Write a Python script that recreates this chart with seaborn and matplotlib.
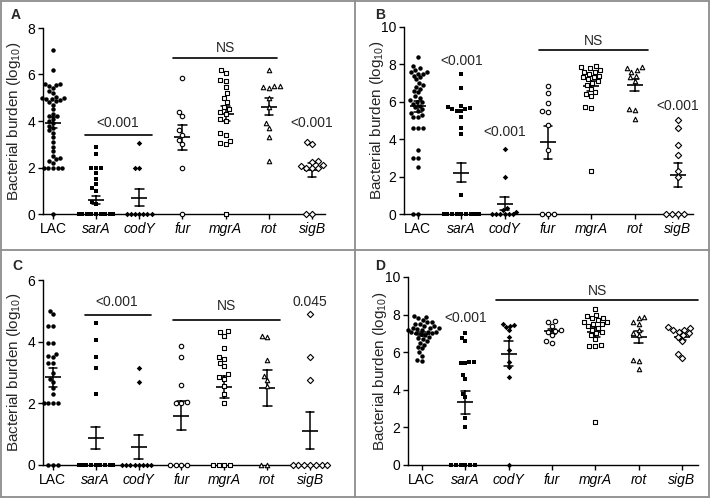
import numpy as np
import pandas as pd
import seaborn as sns
import matplotlib.pyplot as plt
from matplotlib.lines import Line2D

strains = ['LAC', 'sarA', 'codY', 'fur', 'mgrA', 'rot', 'sigB']

# panel A
a_lac = [7.05, 6.2, 5.6, 5.55, 5.5, 5.4, 5.3, 5.2, 5.0, 5.0, 4.95, 4.9, 4.8, 4.7, 4.5,
         4.3, 4.2, 4.2, 4.1, 4.0, 3.9, 3.8, 3.7, 3.6, 3.5, 3.3, 3.1, 2.9, 2.7, 2.5,
         2.4, 2.35, 2.3, 2.2, 2.0, 2.0, 2.0, 2.0, 2.0, 0, 4.95, 5.05, 4.85, 5.6]
a_sara = [2.9, 2.6, 2.0, 2.0, 2.0, 1.75, 1.5, 1.3, 1.1, 1.0, 0.5, 0.45] + [0] * 20
a_cody = [3.05, 2.0, 2.0] + [0] * 7
a_fur = [5.85, 4.4, 4.2, 3.6, 3.4, 3.2, 3.0, 2.0, 0]
a_mgra = [6.2, 6.05, 5.75, 5.7, 5.45, 5.2, 5.0, 4.8, 4.6, 4.5, 4.4, 4.3, 4.1, 4.0,
          3.5, 3.4, 3.15, 3.05, 3.0, 0]
a_rot = [6.2, 5.5, 5.5, 5.4, 5.0, 4.6, 3.9, 3.7, 3.3, 2.3, 5.45]
a_sigb = [3.1, 3.0, 2.3, 2.25, 2.1, 2.05, 2.0, 2.0, 2.0, 0, 0]

# panel B
b_lac = [8.4, 7.9, 7.8, 7.7, 7.6, 7.5, 7.5, 7.4, 7.2, 7.0, 6.8, 6.7, 6.5, 6.3, 6.2,
         6.0, 6.0, 5.9, 5.8, 5.7, 5.6, 5.5, 5.4, 5.3, 5.2, 5.2, 4.6, 4.6, 4.6, 3.4,
         3.0, 3.0, 2.5, 0, 0, 7.6, 6.9, 6.1, 7.3, 6.6]
b_sara = [7.5, 6.75, 5.8, 5.7, 5.65, 5.6, 5.6, 5.5, 5.5, 5.2, 4.6, 4.3, 1.0] + [0] * 18
b_cody = [3.5, 2.0, 0.3, 0.2, 0.1] + [0] * 6
b_fur = [6.85, 6.45, 5.95, 5.5, 5.45, 4.75, 3.4, 0, 0, 0]
b_mgra = [7.9, 7.8, 7.7, 7.6, 7.5, 7.4, 7.3, 7.3, 7.2, 7.1, 7.0, 6.9, 6.7, 6.5, 6.4,
          6.3, 5.7, 5.65, 2.3, 7.85, 7.6]
b_rot = [7.85, 7.8, 7.7, 7.6, 7.4, 7.3, 7.1, 5.6, 5.55, 5.1]
b_sigb = [5.0, 4.6, 3.7, 3.15, 2.3, 2.0, 0, 0, 0, 0]

# panel C
c_lac = [5.0, 4.9, 4.5, 4.5, 3.95, 3.95, 3.6, 3.55, 3.5, 3.3, 3.3, 3.0, 2.8, 2.7,
         2.5, 2.3, 2.0, 2.0, 2.0, 2.0, 0, 0, 0]
c_sara = [4.6, 4.05, 3.5, 3.15, 2.3] + [0] * 15
c_cody = [3.15, 2.7] + [0] * 8
c_fur = [3.85, 3.5, 2.6, 2.05, 2.0, 2.0, 0, 0, 0, 0]
c_mgra = [4.35, 4.3, 4.2, 3.8, 3.5, 3.45, 3.3, 3.2, 2.95, 2.85, 2.8, 2.55, 2.3, 2.0,
          0, 0, 0, 0]
c_rot = [4.2, 4.15, 3.4, 2.9, 2.75, 2.55, 0, 0]
c_sigb = [4.9, 3.5, 2.75] + [0] * 7

# panel D
d_lac = [7.9, 7.85, 7.8, 7.7, 7.6, 7.5, 7.4, 7.3, 7.25, 7.2, 7.1, 7.0, 7.0, 6.95,
         6.9, 6.8, 6.75, 6.7, 6.6, 6.5, 6.4, 6.3, 6.2, 6.0, 5.8, 5.6, 5.55, 7.5,
         7.3, 7.6, 7.2, 7.4, 7.1, 7.05, 7.3]
d_sara = [7.0, 6.75, 6.6, 5.4, 5.5, 5.5, 5.45, 4.8, 4.6, 3.8, 3.6, 2.5, 2.0] + [0] * 6
d_cody = [7.5, 7.45, 7.4, 7.2, 6.8, 6.1, 5.5, 5.2, 4.7, 0, 7.35]
d_fur = [7.65, 7.6, 7.4, 7.2, 7.15, 7.1, 6.9, 6.6, 6.5]
d_mgra = [8.3, 8.0, 7.9, 7.8, 7.7, 7.6, 7.5, 7.4, 7.3, 7.2, 7.1, 7.0, 6.9, 6.7, 6.4,
          6.35, 6.35, 2.3, 7.8, 7.6, 7.5]
d_rot = [7.85, 7.8, 7.6, 7.5, 7.2, 7.0, 6.9, 5.6, 5.55, 5.1]
d_sigb = [7.35, 7.3, 7.2, 7.1, 7.0, 6.9, 6.8, 6.6, 5.9, 5.7, 7.2]

panels = {
    'A': [a_lac, a_sara, a_cody, a_fur, a_mgra, a_rot, a_sigb],
    'B': [b_lac, b_sara, b_cody, b_fur, b_mgra, b_rot, b_sigb],
    'C': [c_lac, c_sara, c_cody, c_fur, c_mgra, c_rot, c_sigb],
    'D': [d_lac, d_sara, d_cody, d_fur, d_mgra, d_rot, d_sigb],
}

# marker, filled?
styles = [('o', True), ('s', True), ('D', True), ('o', False), ('s', False),
          ('^', False), ('D', False)]

sns.set_style('ticks')
plt.rcParams['font.family'] = ['Liberation Sans', 'DejaVu Sans']
plt.rcParams['mathtext.fontset'] = 'custom'
plt.rcParams['mathtext.rm'] = 'Liberation Sans'

fig = plt.figure(figsize=(7.1, 4.98), dpi=100)
W, H = 710, 498


def px_axes(l, t, r, b):
    return fig.add_axes([l / W, 1 - b / H, (r - l) / W, (b - t) / H])


layout = {
    'A': dict(box=(43, 28, 325, 214), ymax=8, xlim=(-0.23, 6.3), lab=(11, 15), ylab=14),
    'B': dict(box=(404, 27, 693, 214), ymax=10, xlim=(-0.32, 6.35), lab=(375, 15), ylab=377),
    'C': dict(box=(43, 280, 323, 465), ymax=6, xlim=(-0.23, 6.3), lab=(12, 266), ylab=14),
    'D': dict(box=(408, 277, 698, 465), ymax=10, xlim=(-0.32, 6.37), lab=(375, 266), ylab=380),
}

# significance annotations: (x0, x1, y line, text, x text, y text)
bars = {
    'A': [(0.75, 2.3, 3.4, '<0.001', 1.5, 3.9), (2.77, 5.2, 6.7, 'NS', 4.0, 7.15),
          (None, None, None, '<0.001', 6.0, 3.9)],
    'B': [(None, None, None, '<0.001', 1.0, 8.2), (None, None, None, '<0.001', 2.0, 4.4),
          (2.8, 5.3, 8.75, 'NS', 4.05, 9.25), (None, None, None, '<0.001', 6.0, 5.8)],
    'C': [(0.75, 2.3, 4.85, '<0.001', 1.5, 5.3), (2.8, 5.3, 4.7, 'NS', 4.05, 5.15),
          (None, None, None, '0.045', 6.0, 5.3)],
    'D': [(None, None, None, '<0.001', 1.0, 7.8), (1.7, 6.37, 8.8, 'NS', 4.05, 9.25)],
}

for key, groups in panels.items():
    cfg = layout[key]
    ax = px_axes(*cfg['box'])
    df = pd.DataFrame({'strain': np.repeat(strains, [len(g) for g in groups]),
                       'burden': np.concatenate(groups)})
    for s, (m, filled) in zip(strains, styles):
        sub = df[df['strain'] == s]
        if filled:
            sns.swarmplot(data=sub, x='strain', y='burden', order=strains, ax=ax,
                          marker=m, color='black', size=3.2 if m != 'D' else 2.8,
                          linewidth=0, warn_thresh=1)
        else:
            sns.swarmplot(data=sub, x='strain', y='burden', order=strains, ax=ax,
                          marker=m, color='white', edgecolor='black', linewidth=0.8,
                          size=3.2, warn_thresh=1)
    sns.pointplot(data=df, x='strain', y='burden', order=strains, ax=ax,
                  errorbar='se', color='black', marker='_', markersize=11,
                  markeredgewidth=1.2, linestyle='none', capsize=0.2,
                  err_kws={'linewidth': 1.1})
    for c in ax.collections:
        c.set_clip_on(False)
    for ln in ax.lines:
        ln.set_clip_on(False)

    ax.set_ylim(0, cfg['ymax'])
    ax.set_xlim(*cfg['xlim'])
    ax.set_yticks(np.arange(0, cfg['ymax'] + 1, 2))
    ax.set_xticks(range(len(strains)))
    ax.set_xticklabels(strains)
    for t, s in zip(ax.get_xticklabels(), strains):
        if s != 'LAC':
            t.set_style('italic')
    ax.tick_params(axis='both', labelsize=10, length=3.5, width=1, colors='black',
                   pad=2)
    ax.set_xlabel('')
    ax.set_ylabel('')
    for sp in ['top', 'right']:
        ax.spines[sp].set_visible(False)
    for sp in ['left', 'bottom']:
        ax.spines[sp].set_linewidth(1)
        ax.spines[sp].set_color('black')

    for x0, x1, yl, txt, xt, yt in bars[key]:
        if x0 is not None:
            ax.add_line(Line2D([x0, x1], [yl, yl], color='black', lw=1.2, clip_on=False))
        ax.text(xt, yt, txt, ha='center', va='center', fontsize=10, clip_on=False)

    b = cfg['box']
    fig.text(cfg['ylab'] / W, 1 - (b[1] + b[3]) / 2 / H,
             'Bacterial burden (log$_{10}$)', rotation=90, ha='center', va='center',
             fontsize=11)
    fig.text(cfg['lab'][0] / W, 1 - cfg['lab'][1] / H, key, fontweight='bold',
             fontsize=10, ha='left', va='center')

# grey panel frames
frame = dict(color='#8c8c8c', lw=1.3)
for xs, ys in [([1, 709], [1, 1]), ([1, 709], [497, 497]), ([1, 1], [1, 497]),
               ([709, 709], [1, 497]), ([355, 355], [1, 497]), ([1, 709], [250, 250])]:
    fig.add_artist(Line2D([x / W for x in xs], [1 - y / H for y in ys], **frame))

fig.savefig('out.png', dpi=100, facecolor='white')
